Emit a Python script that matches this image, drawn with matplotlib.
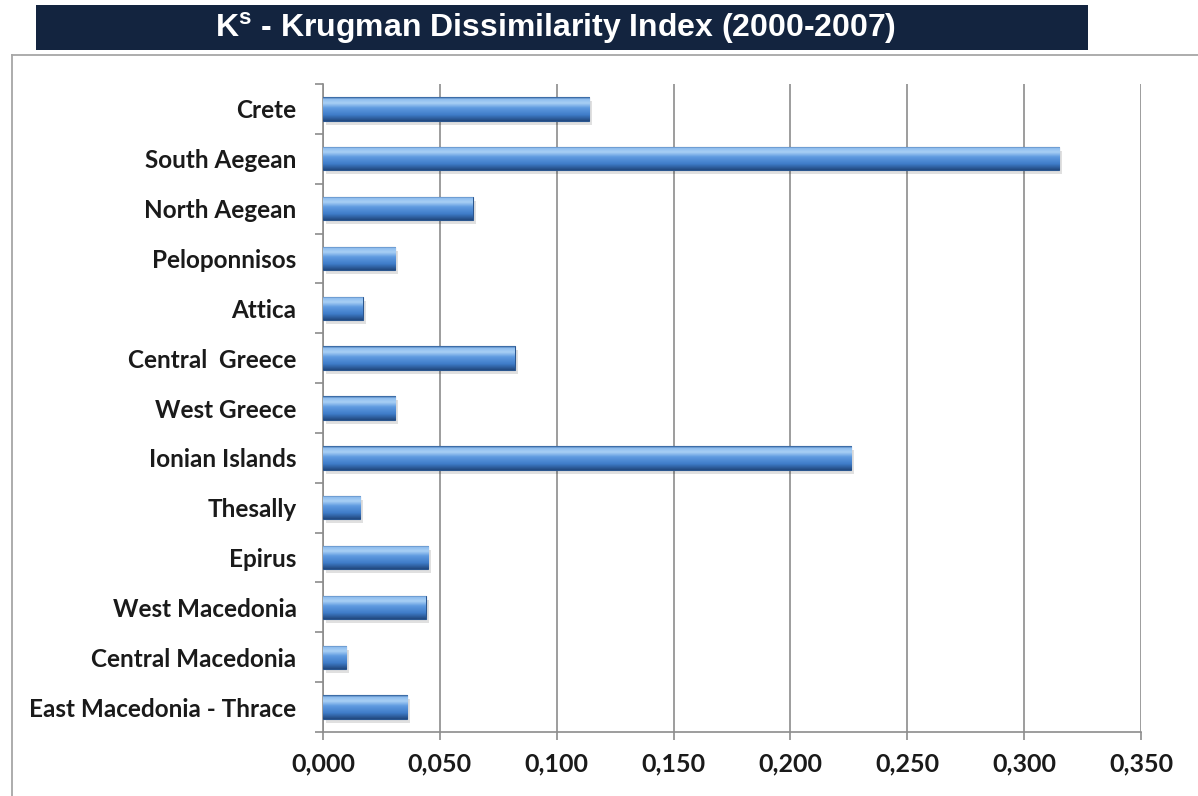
import matplotlib
matplotlib.use("Agg")
import matplotlib.pyplot as plt
import matplotlib.transforms as mtransforms
from matplotlib.colors import LinearSegmentedColormap
from matplotlib.patches import Rectangle
from matplotlib.lines import Line2D
from matplotlib.ticker import FuncFormatter
import numpy as np

# ---- data (top to bottom as shown) ----
regions = ["Crete", "South Aegean", "North Aegean", "Peloponnisos", "Attica",
           "Central  Greece", "West Greece", "Ionian Islands", "Thesally",
           "Epirus", "West Macedonia", "Central Macedonia",
           "East Macedonia - Thrace"]
values = [0.114, 0.315, 0.064, 0.031, 0.017, 0.082, 0.031, 0.226, 0.016,
          0.045, 0.044, 0.010, 0.036]
xticks = [0.0, 0.05, 0.10, 0.15, 0.20, 0.25, 0.30, 0.35]
title_main = " - Krugman Dissimilarity Index (2000-2007)"

label_font = ["Lato", "DejaVu Sans"]
title_font = ["Liberation Sans", "DejaVu Sans"]

fig = plt.figure(figsize=(11.98, 7.96), dpi=100)
W, H = 1198, 796

def fx(px):
    return px / W

def fy(py):
    return 1 - py / H

# title bar
fig.patches.append(Rectangle((fx(36), fy(50)), fx(1088) - fx(36), fy(5) - fy(50),
                             transform=fig.transFigure, facecolor="#13243f",
                             edgecolor="none", zorder=0))
fig.text(fx(556), fy(28), r"K$^{\mathregular{s}}$" + title_main, color="white",
         family=title_font, weight="bold", fontsize=23, ha="center", va="center")

# outer frame
fig.lines.append(Line2D([fx(12), fx(12)], [0, fy(55)], transform=fig.transFigure,
                        color="#a6a6a6", lw=1.3))
fig.lines.append(Line2D([fx(12), 1], [fy(55), fy(55)], transform=fig.transFigure,
                        color="#a6a6a6", lw=1.3))

ax = fig.add_axes([fx(323), fy(732), fx(1141) - fx(323), fy(84) - fy(732)])
n = len(regions)
ypos = np.arange(n)
bh = 0.47

# shadow
shadow_tr = ax.transData + mtransforms.ScaledTranslation(3 / 100, -4 / 100, fig.dpi_scale_trans)
ax.barh(ypos, values, height=bh, color="#000000", alpha=0.12, transform=shadow_tr, zorder=2)

bars = ax.barh(ypos, values, height=bh, color="#4a86d2", edgecolor="#2a568f",
               linewidth=0.8, zorder=3)

cmap = LinearSegmentedColormap.from_list("bevel", [
    (0.0, "#2b5c98"), (0.08, "#8fbdee"), (0.25, "#a9d0f5"), (0.45, "#5f9ae0"),
    (0.75, "#3f7cc8"), (1.0, "#22497f")])
grad = np.linspace(0, 1, 64).reshape(-1, 1)
for b in bars:
    x0, y0 = b.get_x(), b.get_y()
    w, h = b.get_width(), b.get_height()
    im = ax.imshow(grad, cmap=cmap, aspect="auto", extent=(x0, x0 + w, y0 + h, y0),
                   origin="upper", zorder=4)
    im.set_clip_path(b)

ax.set_ylim(n - 0.5, -0.5)
ax.set_xlim(0, 0.35)
ax.set_xticks(xticks)
ax.xaxis.set_major_formatter(FuncFormatter(lambda v, p: f"{v:.3f}".replace(".", ",")))
ax.set_yticks(ypos)
ax.set_yticklabels(regions)
ax.set_yticks(np.arange(-0.5, n, 1.0), minor=True)

ax.grid(axis="x", color="#8c8c8c", lw=1.2, zorder=0)
ax.set_axisbelow(True)
for s in ["top", "right"]:
    ax.spines[s].set_visible(False)
for s in ["left", "bottom"]:
    ax.spines[s].set_color("#8c8c8c")
    ax.spines[s].set_linewidth(1.2)

ax.tick_params(axis="y", which="major", length=0, pad=19)
ax.tick_params(axis="y", which="minor", length=6, color="#8c8c8c", width=1.2)
ax.tick_params(axis="x", which="major", length=6, color="#8c8c8c", width=1.2, pad=9)
for lab in ax.get_yticklabels():
    lab.set_family(label_font)
    lab.set_weight("bold")
    lab.set_fontsize(17.5)
    lab.set_color("#1a1a1a")
for lab in ax.get_xticklabels():
    lab.set_family(label_font)
    lab.set_weight("bold")
    lab.set_fontsize(18)
    lab.set_color("#1a1a1a")

fig.savefig("out.png", dpi=100)
